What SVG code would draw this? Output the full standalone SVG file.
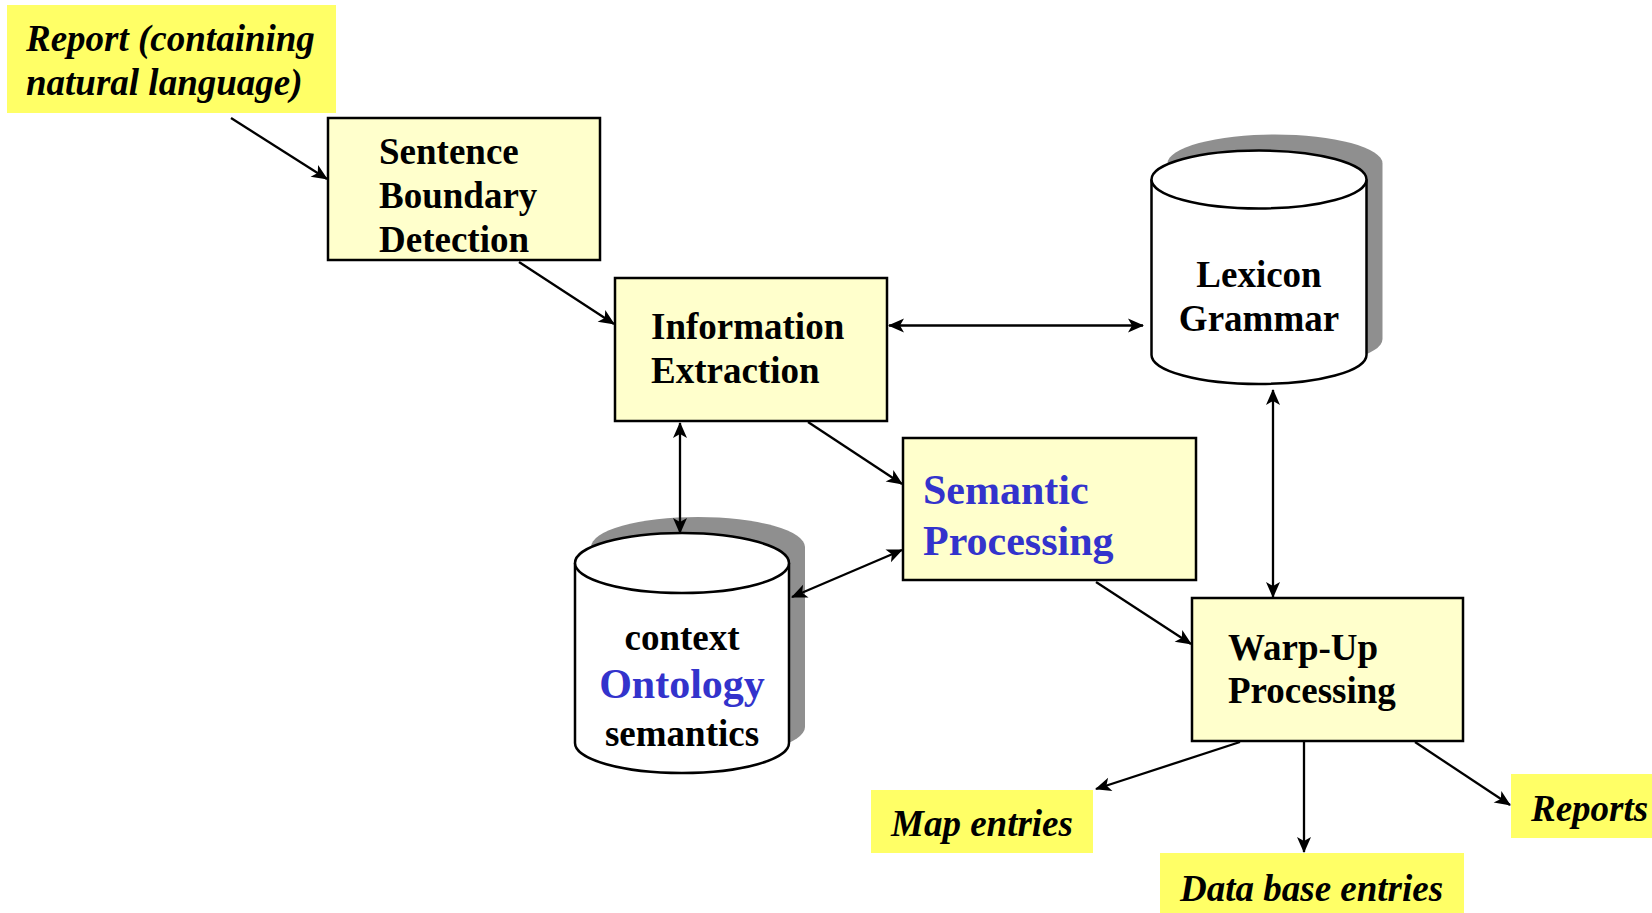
<svg xmlns="http://www.w3.org/2000/svg" width="1652" height="913" viewBox="0 0 1652 913">
<style>
.box{fill:#FFFFCC;stroke:#000;stroke-width:2.5}
.lbl{fill:#FFFF66;stroke:none}
.cyl{fill:#fff;stroke:#000;stroke-width:2.5}
.shadow{fill:#8F8F8F;stroke:none}
.t{font-family:"Liberation Serif","Times New Roman",serif;font-weight:bold;font-size:37px;fill:#000}
.it{font-style:italic}
.blue{fill:#3333CC;font-size:42px}
.c{text-anchor:middle}
.conn line{stroke:#000;stroke-width:2.3;fill:none}
</style>
<defs>
<marker id="ah" viewBox="-16 -8 18 16" refX="0" refY="0" markerWidth="18" markerHeight="16" markerUnits="userSpaceOnUse" orient="auto-start-reverse">
<path d="M1,0 L-15,-7 L-11,0 L-15,7 Z" fill="#000"/>
</marker>
</defs>
<rect width="1652" height="913" fill="#fff"/>

<g id="report-in">
<rect class="lbl" x="7" y="5" width="329" height="108"/>
<text class="t it" x="26" y="51">Report (containing</text>
<text class="t it" x="26" y="95">natural language)</text>
</g>

<g id="sentence-boundary">
<rect class="box" x="328" y="118" width="272" height="142"/>
<text class="t" x="379" y="164">Sentence</text>
<text class="t" x="379" y="208">Boundary</text>
<text class="t" x="379" y="252">Detection</text>
</g>

<g id="information-extraction">
<rect class="box" x="615" y="278" width="272" height="143"/>
<text class="t" x="651" y="339">Information</text>
<text class="t" x="651" y="383">Extraction</text>
</g>

<g id="lexicon-grammar">
<path class="shadow" d="M1167.5,163.5 A107.5,29 0 0 1 1382.5,163.5 L1382.5,339 A107.5,29 0 0 1 1167.5,339 Z"/>
<path class="cyl" d="M1151.5,179.5 L1151.5,355 A107.5,29 0 0 0 1366.5,355 L1366.5,179.5"/>
<ellipse class="cyl" cx="1259" cy="179.5" rx="107.5" ry="29"/>
<text class="t c" x="1259" y="287">Lexicon</text>
<text class="t c" x="1259" y="331">Grammar</text>
</g>

<g id="semantic-processing">
<rect class="box" x="903" y="438" width="293" height="142"/>
<text class="t blue" x="923" y="504">Semantic</text>
<text class="t blue" x="923" y="555">Processing</text>
</g>

<g id="context-ontology">
<path class="shadow" d="M591,547 A107,30 0 0 1 805,547 L805,727 A107,30 0 0 1 591,727 Z"/>
<path class="cyl" d="M575,563 L575,743 A107,30 0 0 0 789,743 L789,563"/>
<ellipse class="cyl" cx="682" cy="563" rx="107" ry="30"/>
<text class="t c" x="682" y="650">context</text>
<text class="t c blue" x="682" y="698">Ontology</text>
<text class="t c" x="682" y="746">semantics</text>
</g>

<g id="warp-up-processing">
<rect class="box" x="1192" y="598" width="271" height="143"/>
<text class="t" x="1228" y="660">Warp-Up</text>
<text class="t" x="1228" y="703">Processing</text>
</g>

<g id="map-entries">
<rect class="lbl" x="871" y="790" width="222" height="63"/>
<text class="t it" x="891" y="836">Map entries</text>
</g>

<g id="database-entries">
<rect class="lbl" x="1160" y="853" width="304" height="60"/>
<text class="t it" x="1180" y="901">Data base entries</text>
</g>

<g id="reports-out">
<rect class="lbl" x="1511" y="774" width="141" height="64"/>
<text class="t it" x="1531" y="821">Reports</text>
</g>

<g id="connectors" class="conn">
<line x1="231" y1="118" x2="327" y2="179" marker-end="url(#ah)"/>
<line x1="519" y1="262" x2="614" y2="324" marker-end="url(#ah)"/>
<line x1="889" y1="325.5" x2="1143" y2="325.5" marker-start="url(#ah)" marker-end="url(#ah)"/>
<line x1="680" y1="423" x2="680" y2="533" marker-start="url(#ah)" marker-end="url(#ah)"/>
<line x1="808" y1="422" x2="902" y2="484" marker-end="url(#ah)"/>
<line x1="792" y1="597" x2="902" y2="550" marker-start="url(#ah)" marker-end="url(#ah)"/>
<line x1="1273" y1="390" x2="1273" y2="597" marker-start="url(#ah)" marker-end="url(#ah)"/>
<line x1="1096" y1="582" x2="1191" y2="644" marker-end="url(#ah)"/>
<line x1="1240" y1="742" x2="1096" y2="789" marker-end="url(#ah)"/>
<line x1="1304" y1="742" x2="1304" y2="852" marker-end="url(#ah)"/>
<line x1="1415" y1="742" x2="1510" y2="805" marker-end="url(#ah)"/>
</g>
</svg>
